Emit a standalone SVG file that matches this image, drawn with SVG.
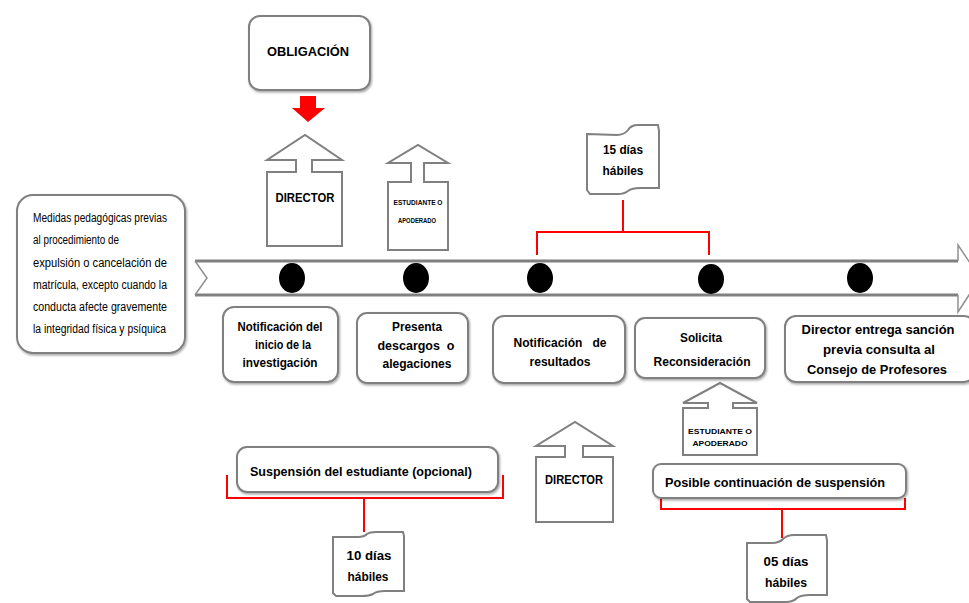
<svg xmlns="http://www.w3.org/2000/svg" width="969" height="603" viewBox="0 0 969 603">
<style>
.box{fill:#fff;stroke:#808080;stroke-width:2}
.band{fill:none;stroke:#808080;stroke-width:3}
.thin{fill:none;stroke:#909090;stroke-width:1.5}
.red{fill:none;stroke:#ff0000;stroke-width:2}
.dot{fill:#000}
text{font-family:"Liberation Sans",Arial,sans-serif;fill:#000;text-anchor:middle;font-weight:bold;font-size:12px}
.l{text-anchor:start;font-weight:normal;font-size:12.5px}
.s{font-size:7px}
.h{font-weight:900}
</style>
<defs>
<filter id="sh" x="-10%" y="-10%" width="130%" height="130%">
<feDropShadow dx="1" dy="1.5" stdDeviation="0.8" flood-color="#000" flood-opacity="0.35"/>
</filter>
</defs>

<g id="connectors">
<path class="red" d="M537,255 L537,232 L709,232 L709,255 M623,232 L623,200"/>
<path class="red" d="M227,475 L227,498 L503,498 L503,475 M364,498 L364,532"/>
<path class="red" d="M661,498 L661,509 L905,509 L905,498 M782,509 L782,538"/>
<path d="M300,96 L316,96 L316,108 L325,108 L308,122 L292,108 L300,108 Z" fill="#ff0000"/>
</g>

<g id="timeline">
<path class="band" d="M195,261 L958,261 M195,295 L958,295"/>
<path class="thin" d="M195,261 L207,278 L195,295"/>
<path class="thin" d="M958,261 L958,245 L980,278 L958,312 L958,295"/>
<ellipse class="dot" cx="292" cy="278" rx="13" ry="15"/>
<ellipse class="dot" cx="416" cy="278" rx="13" ry="15"/>
<ellipse class="dot" cx="540" cy="278" rx="13" ry="15"/>
<ellipse class="dot" cx="711" cy="279" rx="13" ry="15"/>
<ellipse class="dot" cx="860" cy="278" rx="13" ry="15"/>
</g>

<g id="medidas">
<rect class="box" x="17" y="195" width="168" height="158" rx="16" filter="url(#sh)"/>
<text class="l" x="33" y="222" textLength="134" lengthAdjust="spacingAndGlyphs">Medidas pedagógicas previas</text>
<text class="l" x="33" y="244" textLength="86" lengthAdjust="spacingAndGlyphs">al procedimiento de</text>
<text class="l" x="33" y="267" textLength="134" lengthAdjust="spacingAndGlyphs">expulsión o cancelación de</text>
<text class="l" x="33" y="289" textLength="134" lengthAdjust="spacingAndGlyphs">matrícula, excepto cuando la</text>
<text class="l" x="33" y="311" textLength="134" lengthAdjust="spacingAndGlyphs">conducta afecte gravemente</text>
<text class="l" x="33" y="333" textLength="133" lengthAdjust="spacingAndGlyphs">la integridad física y psíquica</text>
</g>

<g id="obligacion">
<rect class="box" x="249" y="16" width="121" height="74" rx="11" filter="url(#sh)"/>
<text x="308" y="56" textLength="82" lengthAdjust="spacingAndGlyphs">OBLIGACIÓN</text>
</g>

<g id="director1">
<path class="box" d="M267,246 L267,172 L296,172 L296,160 L267,160 L305,135 L342,160 L312,160 L312,172 L342,172 L342,246 Z"/>
<text x="305" y="202" textLength="59" lengthAdjust="spacingAndGlyphs">DIRECTOR</text>
</g>

<g id="estudiante1">
<path class="box" d="M388,250 L388,182 L411,182 L411,163 L388,163 L418,145 L448,163 L424,163 L424,182 L448,182 L448,250 Z"/>
<text class="s" x="418" y="205" textLength="49" lengthAdjust="spacingAndGlyphs">ESTUDIANTE O</text>
<text class="s" x="417" y="223" textLength="38" lengthAdjust="spacingAndGlyphs">APODERADO</text>
</g>

<g id="dias15">
<path class="box" d="M587,134 L617,135 Q624,135 628,130 Q631,125 638,125 L658,125 L659,131 L659,188 L640,188 Q632,188 628,191 Q624,194 618,194 L590,194 L587,190 Z"/>
<text x="623" y="154" textLength="40" lengthAdjust="spacingAndGlyphs">15 días</text>
<text x="623" y="175" textLength="41" lengthAdjust="spacingAndGlyphs">hábiles</text>
</g>

<g id="notif-inicio">
<rect class="box" x="223" y="307" width="115" height="75" rx="11" filter="url(#sh)"/>
<text x="280" y="331" textLength="85" lengthAdjust="spacingAndGlyphs">Notificación del</text>
<text x="283" y="349" textLength="56" lengthAdjust="spacingAndGlyphs">inicio de la</text>
<text x="280" y="367" textLength="75" lengthAdjust="spacingAndGlyphs">investigación</text>
</g>

<g id="descargos">
<rect class="box" x="357" y="313" width="111" height="70" rx="10" filter="url(#sh)"/>
<text x="417" y="331" textLength="50" lengthAdjust="spacingAndGlyphs">Presenta</text>
<text x="416" y="350" textLength="77" lengthAdjust="spacingAndGlyphs" xml:space="preserve">descargos  o</text>
<text x="417" y="368" textLength="69" lengthAdjust="spacingAndGlyphs">alegaciones</text>
</g>

<g id="notif-resultados">
<rect class="box" x="493" y="316" width="132" height="67" rx="11" filter="url(#sh)"/>
<text x="560" y="347" textLength="93" lengthAdjust="spacingAndGlyphs" xml:space="preserve">Notificación   de</text>
<text x="560" y="366" textLength="61" lengthAdjust="spacingAndGlyphs">resultados</text>
</g>

<g id="reconsideracion">
<rect class="box" x="635" y="318" width="130" height="60" rx="10" filter="url(#sh)"/>
<text x="701" y="342" textLength="42" lengthAdjust="spacingAndGlyphs">Solicita</text>
<text x="702" y="366" textLength="97" lengthAdjust="spacingAndGlyphs">Reconsideración</text>
</g>

<g id="sancion">
<rect class="box" x="785" y="316" width="190" height="66" rx="11" filter="url(#sh)"/>
<text x="878" y="334" textLength="153" lengthAdjust="spacingAndGlyphs">Director entrega sanción</text>
<text x="879" y="354" textLength="112" lengthAdjust="spacingAndGlyphs">previa consulta al</text>
<text x="877" y="374" textLength="140" lengthAdjust="spacingAndGlyphs">Consejo de Profesores</text>
</g>

<g id="suspension">
<rect class="box" x="237" y="447" width="261" height="45" rx="10" filter="url(#sh)"/>
<text x="361" y="476" textLength="222" lengthAdjust="spacingAndGlyphs">Suspensión del estudiante (opcional)</text>
</g>

<g id="dias10">
<path class="box" d="M333,537 L358,537 Q364,537 367,534 Q370,532 376,532 L403,532 L404,536 L404,591 L385,591 Q377,591 373,594 Q369,596 362,596 L336,596 L333,593 Z"/>
<text x="369" y="560" textLength="45" lengthAdjust="spacingAndGlyphs">10 días</text>
<text x="368" y="581" textLength="41" lengthAdjust="spacingAndGlyphs">hábiles</text>
</g>

<g id="director2">
<path class="box" d="M536,522 L536,457 L565,457 L565,446 L536,446 L575,422 L613,446 L583,446 L583,457 L613,457 L613,522 Z"/>
<text x="574" y="484" textLength="58" lengthAdjust="spacingAndGlyphs">DIRECTOR</text>
</g>

<g id="estudiante2">
<path class="box" d="M683,455 L683,408 L708,408 L708,403 L683,403 L720,383 L757,403 L733,403 L733,408 L757,408 L757,455 Z"/>
<text class="s h" x="720" y="434" textLength="64" lengthAdjust="spacingAndGlyphs">ESTUDIANTE O</text>
<text class="s h" x="720" y="446" textLength="55" lengthAdjust="spacingAndGlyphs">APODERADO</text>
</g>

<g id="continuacion">
<rect class="box" x="653" y="464" width="253" height="34" rx="8" filter="url(#sh)"/>
<text x="775" y="487" textLength="220" lengthAdjust="spacingAndGlyphs">Posible continuación de suspensión</text>
</g>

<g id="dias05">
<path class="box" d="M747,543 L772,543 Q779,543 783,539 Q787,535 794,535 L826,535 L827,540 L827,595 L810,595 Q801,595 797,598 Q793,602 786,602 L750,602 L747,599 Z"/>
<text x="786" y="566" textLength="45" lengthAdjust="spacingAndGlyphs">05 días</text>
<text x="786" y="587" textLength="42" lengthAdjust="spacingAndGlyphs">hábiles</text>
</g>
</svg>
